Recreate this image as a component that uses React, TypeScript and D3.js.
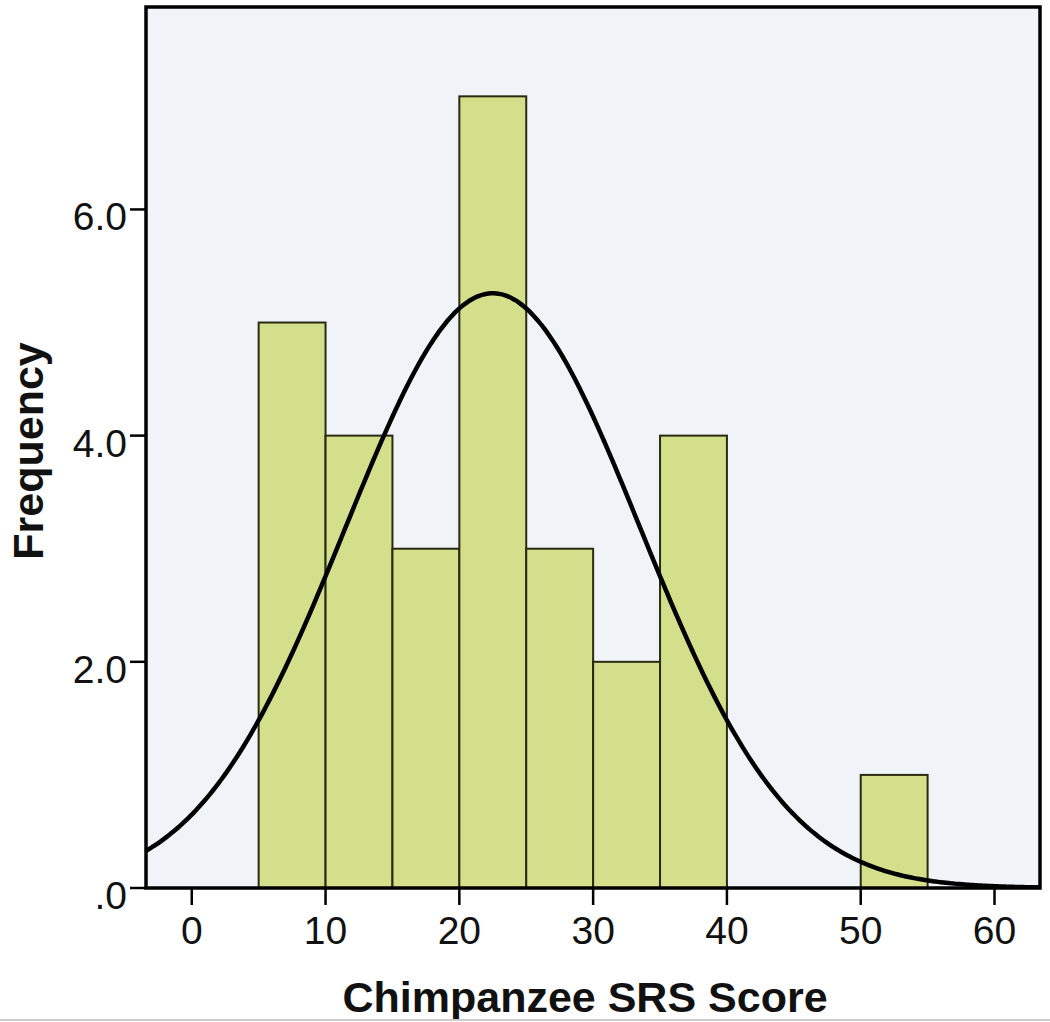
import React from "react";
import * as d3 from "d3";

const binStarts = [5, 10, 15, 20, 25, 30, 35, 50];
const binWidth = 5;
const counts = [5, 4, 3, 7, 3, 2, 4, 1];
const xTicks = [0, 10, 20, 30, 40, 50, 60];
const yTicks = [0, 2, 4, 6];
const yTickLabels = [".0", "2.0", "4.0", "6.0"];
const fitMean = 22.5;
const fitSd = 11.0;
const fitN = 29;

const W = 1050;
const H = 1022;
const left = 146, right = 1040, top = 7, bottom = 888;

export default function App() {
  const x = d3.scaleLinear().domain([-3.42, 63.4]).range([left, right]);
  const y = d3.scaleLinear().domain([0, 7.79]).range([bottom, top]);

  const pdf = (v: number) =>
    (fitN * binWidth) / (fitSd * Math.sqrt(2 * Math.PI)) *
    Math.exp(-0.5 * ((v - fitMean) / fitSd) ** 2);
  const xs = d3.range(-3.42, 63.4, 0.2).concat([63.4]);
  const line = d3.line<number>().x((v) => x(v)).y((v) => y(pdf(v))).curve(d3.curveBasis);

  const font = "Arial, 'Liberation Sans', sans-serif";

  return (
    <svg width={W} height={H} style={{ position: "absolute", left: 0, top: 0, background: "#fff" }}>
      <defs>
        <clipPath id="plot">
          <rect x={left} y={top} width={right - left} height={bottom - top} />
        </clipPath>
      </defs>
      <rect x={left} y={top} width={right - left} height={bottom - top} fill="#f0f4f8" />
      {binStarts.map((s, i) => (
        <rect
          key={i}
          x={x(s)}
          y={y(counts[i])}
          width={x(s + binWidth) - x(s)}
          height={y(0) - y(counts[i])}
          fill="#d3df8a"
          stroke="#2a2a12"
          strokeWidth={2}
        />
      ))}
      <path d={line(xs) || ""} fill="none" stroke="#000" strokeWidth={4.5} clipPath="url(#plot)" />
      <rect x={left} y={top} width={right - left} height={bottom - top} fill="none" stroke="#000" strokeWidth={3.5} />
      {xTicks.map((t) => (
        <g key={t}>
          <line x1={x(t)} x2={x(t)} y1={bottom} y2={bottom + 17} stroke="#000" strokeWidth={2.5} />
          <text x={x(t)} y={944} textAnchor="middle" fontFamily={font} fontSize={39} fill="#111">
            {t}
          </text>
        </g>
      ))}
      {yTicks.map((t, i) => (
        <g key={t}>
          <line x1={left - 16} x2={left} y1={y(t)} y2={y(t)} stroke="#000" strokeWidth={2.5} />
          <text x={127} y={y(t) + 21} textAnchor="end" fontFamily={font} fontSize={39} fill="#111">
            {yTickLabels[i]}
          </text>
        </g>
      ))}
      <text x={585} y={1012} textAnchor="middle" fontFamily={font} fontSize={43} fontWeight="bold" fill="#111">
        Chimpanzee SRS Score
      </text>
      <text
        transform={`translate(43, 451) rotate(-90)`}
        textAnchor="middle"
        fontFamily={font}
        fontSize={43}
        fontWeight="bold"
        fill="#111"
      >
        Frequency
      </text>
      <line x1={0} x2={W} y1={1020} y2={1020} stroke="#ccc" strokeWidth={2} />
    </svg>
  );
}
